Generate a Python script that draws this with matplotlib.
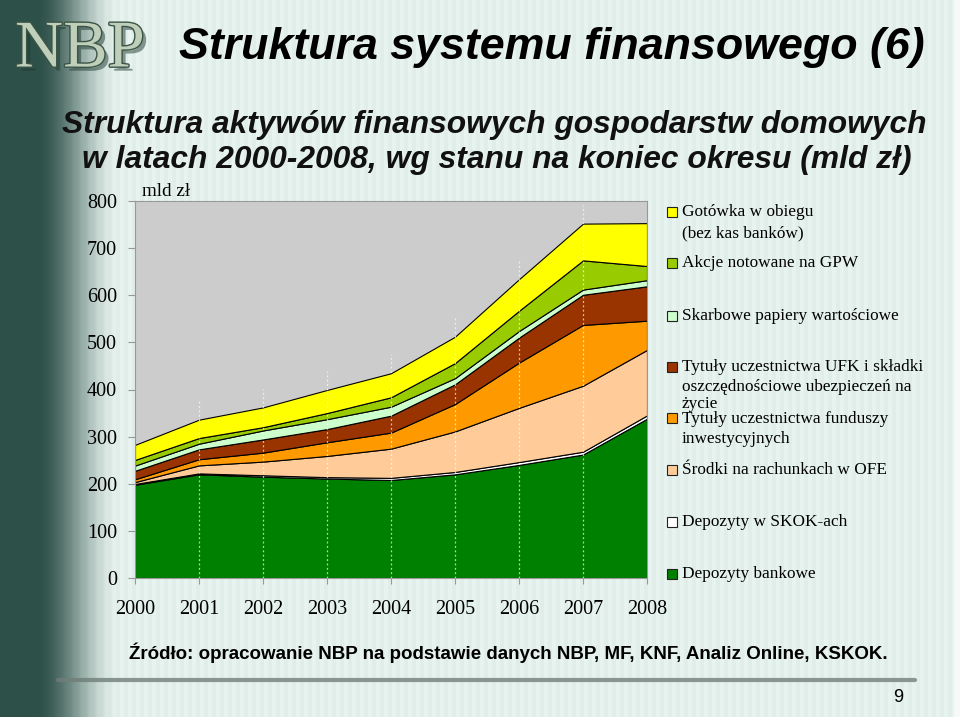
import numpy as np
import matplotlib
matplotlib.use("Agg")
import matplotlib.pyplot as plt
import matplotlib.patheffects as pe
from matplotlib.patches import Rectangle

# dane (mld zł)
lata = [2000, 2001, 2002, 2003, 2004, 2005, 2006, 2007, 2008]
depozyty_bankowe = [198, 220, 215, 211, 208, 220, 240, 262, 338]
depozyty_skok = [1.5, 2, 3, 3, 4.5, 5, 6, 6, 7]
srodki_ofe = [4, 17, 29, 45, 62, 86, 115, 140, 139]
fundusze_inw = [6, 13, 19, 29, 34, 58, 96, 129, 62]
ufk_ubezp = [18, 21, 28, 28, 36, 42, 53, 64, 73]
skarbowe_pw = [11, 12, 19, 21, 19, 13, 14, 11, 13]
akcje_gpw = [12, 12, 7, 13, 20, 32, 43, 62, 30]
gotowka = [32, 39, 42, 49, 51, 56, 67, 78, 91]

serie = [depozyty_bankowe, depozyty_skok, srodki_ofe, fundusze_inw,
         ufk_ubezp, skarbowe_pw, akcje_gpw, gotowka]
kolory = ["#008000", "#ffffff", "#ffcc99", "#ff9900",
          "#993300", "#ccffcc", "#99cc00", "#ffff00"]

W, H = 960, 717
fig = plt.figure(figsize=(9.6, 7.17), dpi=100)

# tło slajdu: ciemny pas po lewej i jasne pionowe prążki
bg = fig.add_axes([0, 0, 1, 1])
bg.set_axis_off()
xs = np.arange(W)
t = np.clip((xs - 35) / 85.0, 0, 1)
t = t * t * (3 - 2 * t)
dark = np.array([45, 80, 72]) / 255
light = np.array([228, 240, 236]) / 255
row = dark[None, :] * (1 - t[:, None]) + light[None, :] * t[:, None]
stripes = np.where((xs // 4) % 2 == 0, 0.012, -0.008) * t
row = np.clip(row + stripes[:, None], 0, 1)
row[W - 6:] = [0.97, 0.98, 0.98]
img = np.repeat(row[None, :, :], H, axis=0)
bg.imshow(img, extent=[0, 1, 0, 1], aspect="auto", zorder=0)
bg.set_xlim(0, 1)
bg.set_ylim(0, 1)
bg.plot([58 / W, 915 / W], [1 - 680 / H, 1 - 680 / H], color="#6f7f78",
        lw=3, solid_capstyle="round", alpha=0.8)

# logo NBP
fig.text(15 / W, 1 - 50 / H, "NBP", fontsize=48, family="Liberation Serif",
         color="#c0cfba", va="center", ha="left",
         path_effects=[pe.SimplePatchShadow(offset=(3, -3), shadow_rgbFace="#1e3a30", alpha=0.5),
                       pe.withStroke(linewidth=2, foreground="#3a5446")])

sans = "Liberation Sans"
serif = "Liberation Serif"
fig.text(925 / W, 1 - 47 / H, "Struktura systemu finansowego (6)", fontsize=32.2,
         family=sans, weight="bold", style="italic", ha="right", va="center")
fig.text(494 / W, 1 - 125 / H, "Struktura aktywów finansowych gospodarstw domowych",
         fontsize=22.9, family=sans, weight="bold", style="italic", ha="center", va="center",
         color="#111111")
fig.text(497 / W, 1 - 160 / H, "w latach 2000-2008, wg stanu na koniec okresu (mld zł)",
         fontsize=22.9, family=sans, weight="bold", style="italic", ha="center", va="center",
         color="#111111")

# wykres
ax = fig.add_axes([135 / W, 1 - 578 / H, 512 / W, 377 / H])
ax.set_facecolor("#cccccc")
ax.stackplot(lata, *serie, colors=kolory, edgecolor="black", linewidth=0.8, zorder=2)
suma = np.sum(serie, axis=0)
for i, r in enumerate(lata[1:-1], start=1):
    ax.plot([r, r], [0, suma[i] + 40], color="white", lw=0.9, ls=(0, (1.5, 2)),
            alpha=0.7, zorder=3)
ax.set_xlim(2000, 2008)
ax.set_ylim(0, 800)
ax.set_xticks(lata)
ax.set_yticks(range(0, 801, 100))
ax.tick_params(axis="x", length=4, pad=12, color="#999999", labelsize=14.5)
ax.tick_params(axis="y", length=5, pad=8, color="#999999", labelsize=14.5)
for lab in ax.get_xticklabels() + ax.get_yticklabels():
    lab.set_family(serif)
for s in ax.spines.values():
    s.set_color("#999999")
    s.set_linewidth(0.8)
ax.text(0.013, 1.003, "mld zł", transform=ax.transAxes, fontsize=13.8,
        family=serif, ha="left", va="bottom")

# legenda
legenda = [
    ("#ffff00", 212, ["Gotówka w obiegu", "(bez kas banków)"], [212, 233]),
    ("#99cc00", 263, ["Akcje notowane na GPW"], [263]),
    ("#ccffcc", 316, ["Skarbowe papiery wartościowe"], [316]),
    ("#993300", 367, ["Tytuły uczestnictwa UFK i składki",
                      "oszczędnościowe ubezpieczeń na", "życie"], [367, 387, 404]),
    ("#ff9900", 418, ["Tytuły uczestnictwa funduszy", "inwestycyjnych"], [419, 439]),
    ("#ffcc99", 470, ["Środki na rachunkach w OFE"], [470]),
    ("#ffffff", 522, ["Depozyty w SKOK-ach"], [522]),
    ("#008000", 574, ["Depozyty bankowe"], [574]),
]
for kol, ym, linie, ys in legenda:
    fig.add_artist(Rectangle((667 / W, 1 - (ym + 5) / H), 10 / W, 10 / H,
                             facecolor=kol, edgecolor="#222222", lw=0.8,
                             transform=fig.transFigure))
    for tekst, yl in zip(linie, ys):
        fig.text(682 / W, 1 - yl / H, tekst, fontsize=12.4, family=serif,
                 ha="left", va="center")

fig.text(508 / W, 1 - 653 / H,
         "Źródło: opracowanie NBP na podstawie danych NBP, MF, KNF, Analiz Online, KSKOK.",
         fontsize=13.5, family=sans, weight="bold", ha="center", va="center")
fig.text(898 / W, 1 - 698 / H, "9", fontsize=13, family=sans, ha="center", va="center")

fig.savefig("out.png", dpi=100)
